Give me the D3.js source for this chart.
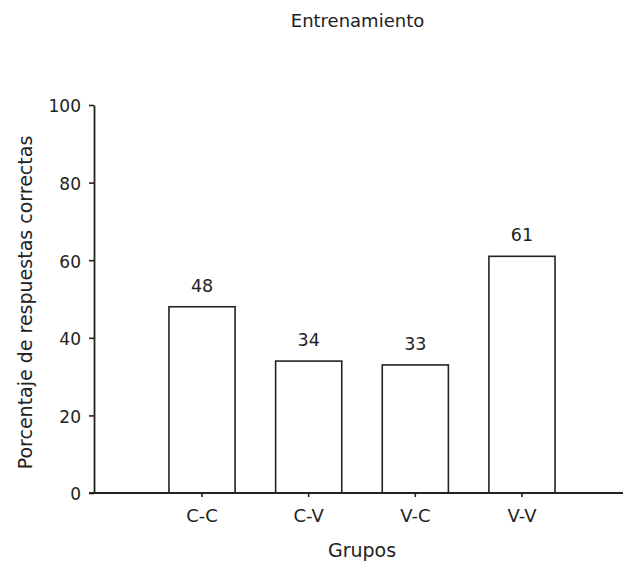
<!DOCTYPE html>
<html>
<head>
<meta charset="utf-8">
<script src="https://cdn.jsdelivr.net/npm/d3@7"></script>
<style>
  html, body { margin: 0; padding: 0; background: #fff; }
  svg { display: block; }
  text { font-family: "DejaVu Sans", sans-serif; fill: #222; }
</style>
</head>
<body>
<svg id="chart" width="623" height="562"></svg>
<script>
const title = "Entrenamiento";
const categories = ["C-C", "C-V", "V-C", "V-V"];
const values = [48, 34, 33, 61];
const yTicks = [0, 20, 40, 60, 80, 100];
const xLabel = "Grupos";
const yLabel = "Porcentaje de respuestas correctas";

const svg = d3.select("#chart");
const W = 623, H = 562;
const axisX = 94;

const y = d3.scaleLinear().domain([0, 100]).range([493, 105]);
const x = d3.scaleBand().domain(categories).range([148.7, 575.3])
  .paddingInner(0.38).paddingOuter(0.19);

const ink = "#222";

// Title
svg.append("text").attr("x", 357.5).attr("y", 27)
  .attr("text-anchor", "middle").style("font-size", "18px").text(title);

// Bars
svg.append("g").selectAll("rect").data(values).join("rect")
  .attr("x", (d, i) => x(categories[i]))
  .attr("y", d => y(d))
  .attr("width", x.bandwidth())
  .attr("height", d => y(0) - y(d))
  .attr("fill", "#fff")
  .attr("stroke", ink)
  .attr("stroke-width", 1.6);

// Value labels
svg.append("g").selectAll("text").data(values).join("text")
  .attr("x", (d, i) => x(categories[i]) + x.bandwidth() / 2)
  .attr("y", d => y(d) - 15)
  .attr("text-anchor", "middle")
  .style("font-size", "17.5px")
  .text(d => d);

// Y axis
const yAxis = svg.append("g").attr("transform", `translate(${axisX},0)`)
  .call(d3.axisLeft(y).tickValues(yTicks).tickSize(5).tickSizeOuter(0).tickPadding(8));
yAxis.select(".domain").attr("stroke", ink).attr("stroke-width", 1.8);
yAxis.selectAll(".tick line").attr("stroke", ink).attr("stroke-width", 1.6);
yAxis.selectAll(".tick text").style("font-size", "17px").style("font-family", "DejaVu Sans, sans-serif")
  .attr("fill", ink).attr("dy", "0.4em");

// X axis baseline
svg.append("line")
  .attr("x1", axisX - 5).attr("x2", W)
  .attr("y1", y(0)).attr("y2", y(0))
  .attr("stroke", ink).attr("stroke-width", 1.8);

const xAxis = svg.append("g").attr("transform", `translate(0,${y(0)})`)
  .call(d3.axisBottom(x).tickSize(4).tickSizeOuter(0).tickPadding(12));
xAxis.select(".domain").remove();
xAxis.selectAll(".tick line").attr("stroke", ink).attr("stroke-width", 1.6);
xAxis.selectAll(".tick text").style("font-size", "18px").style("font-family", "DejaVu Sans, sans-serif")
  .attr("fill", ink);

// Axis labels
svg.append("text").attr("x", 362).attr("y", 557)
  .attr("text-anchor", "middle").style("font-size", "19px").text(xLabel);

svg.append("text")
  .attr("transform", `translate(32,302.5) rotate(-90)`)
  .attr("text-anchor", "middle").style("font-size", "19px").text(yLabel);
</script>
</body>
</html>
